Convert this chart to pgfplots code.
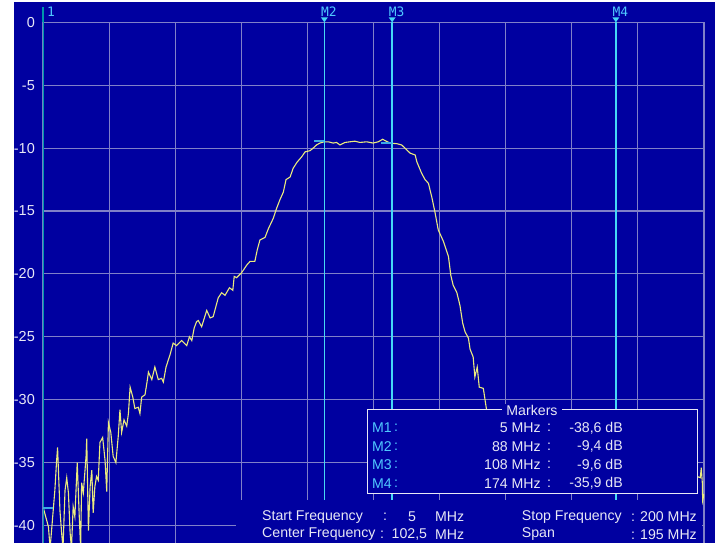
\documentclass[border=0pt]{standalone}
\usepackage{pgfplots}
\usepackage{pgfplotstable}
\pgfplotsset{compat=1.18}
\usepackage{fontspec}
\setmainfont{Liberation Sans}
\newfontfamily\mono{DejaVu Sans Mono}
\definecolor{bg}{RGB}{0,0,160}
\definecolor{gridc}{RGB}{128,128,200}
\definecolor{trace}{RGB}{235,235,125}
\definecolor{mk}{RGB}{70,215,245}
\definecolor{mkone}{RGB}{0,150,170}
\definecolor{mtick}{RGB}{60,170,230}
\definecolor{txt}{RGB}{232,232,245}
\definecolor{mlab}{RGB}{80,200,255}

\pgfplotstableread{
f db
5.1 -38.6
6.6 -40.1
7.1 -41.8
8.5 -37.2
9.0 -34.9
9.3 -33.8
10.0 -38.8
10.5 -40.6
10.9 -41.8
11.5 -37.2
12.0 -36.2
12.5 -37.4
13.0 -40.6
13.4 -41.8
13.9 -38.5
14.4 -39.3
15.1 -35.0
15.7 -39.3
16.1 -41.8
16.4 -36.6
16.9 -37.4
17.7 -34.5
17.9 -33.1
18.4 -40.4
18.9 -36.9
19.4 -35.6
19.8 -39.0
20.3 -36.9
20.8 -36.1
21.3 -36.4
21.8 -33.4
22.6 -33.0
23.3 -34.8
23.8 -37.3
24.3 -31.8
25.0 -32.6
25.7 -34.5
26.5 -35.0
27.2 -32.9
27.7 -30.8
28.2 -32.6
28.9 -31.6
29.7 -32.1
30.2 -31.1
30.7 -29.0
31.5 -29.8
32.1 -30.7
33.1 -30.6
33.6 -31.1
34.1 -29.8
35.1 -29.6
35.8 -28.4
36.1 -27.8
37.1 -28.4
38.0 -27.4
39.0 -28.4
40.0 -28.3
40.5 -28.6
41.3 -27.4
42.5 -26.4
43.4 -25.5
44.4 -25.7
45.9 -25.3
47.4 -25.7
48.2 -25.0
48.9 -25.3
49.6 -24.3
50.3 -23.8
50.8 -23.7
51.8 -24.2
53.3 -22.9
54.3 -23.5
55.2 -23.4
56.7 -21.9
57.7 -21.5
58.7 -21.7
60.0 -21.1
61.0 -21.3
61.4 -20.2
62.1 -20.3
63.6 -19.9
65.1 -19.3
66.1 -19.0
67.5 -19.0
68.2 -18.1
69.0 -17.3
70.5 -17.1
71.5 -16.4
72.9 -15.6
73.9 -14.8
74.9 -14.1
75.9 -13.5
76.7 -12.5
77.9 -12.3
78.8 -11.6
80.0 -11.1
81.3 -10.7
82.3 -10.3
83.8 -10.2
84.7 -10.0
85.7 -9.75
86.7 -9.6
87.9 -9.5
89.2 -9.5
90.6 -9.6
91.6 -9.55
92.6 -9.75
94.1 -9.55
97.0 -9.45
98.5 -9.55
100.5 -9.5
102.4 -9.6
103.9 -9.5
105.2 -9.3
105.9 -9.4
107.4 -9.6
109.4 -9.65
110.8 -9.75
111.8 -10.0
113.3 -10.4
114.8 -10.55
115.3 -11.1
116.7 -12.0
117.7 -12.5
118.7 -12.8
119.7 -13.9
120.6 -15.05
121.6 -16.5
123.1 -17.4
124.6 -18.6
125.3 -20.1
126.0 -20.9
127.1 -21.5
128.0 -22.5
128.8 -23.9
129.5 -24.6
130.5 -25.1
131.0 -26.0
131.9 -26.6
132.4 -28.2
133.1 -27.4
133.7 -29.0
134.9 -29.1
135.4 -30.0
136.3 -31.6
137.5 -34.0
138.9 -35.6
142 -36.5
148 -35.8
155 -36.8
162 -35.5
168 -36.3
174 -35.9
180 -36.4
186 -35.7
192 -36.8
197 -36.0
198.9 -36.2
199.2 -35.4
199.5 -36.6
199.6 -38.0
200 -37.5
}\tracedata

\begin{document}
\begin{tikzpicture}
\begin{scope}[x=1bp,y=1bp]
\fill[white] (0,0) rectangle (715,543);
\fill[bg] (14,0) rectangle (715,541);
\end{scope}
\begin{axis}[
  at={(43bp,0bp)}, anchor=south west,
  scale only axis, width=661bp, height=520.7bp,
  xmin=5, xmax=200, ymin=-41.39, ymax=0,
  xtick={5,24.5,44,63.5,83,102.5,122,141.5,161,180.5,200},
  xticklabels={},
  ytick={-40,-35,-30,-25,-20,-15,-10,-5,0},
  yticklabels={-40,-35,-30,-25,-20,-15,-10,-5,0},
  yticklabel style={text=txt, font=\fontsize{14.5}{15}\selectfont, anchor=east, inner sep=0pt, xshift=-8bp},
  grid=major,
  major grid style={draw=gridc, line width=1.1bp},
  axis line style={draw=none},
  major tick length=0pt,
  tick style={draw=none},
  clip mode=individual,
]
\addplot[trace, line width=1.1bp] table[x=f, y=db] {\tracedata};
% marker lines
\addplot[mkone, line width=1.6bp] coordinates {(5,0) (5,-41.39)};
\addplot[mk, line width=1.6bp] coordinates {(88,0) (88,-41.39)};
\addplot[mk, line width=1.6bp] coordinates {(108,0) (108,-41.39)};
\addplot[mk, line width=1.6bp] coordinates {(174,0) (174,-41.39)};
% marker level ticks
\addplot[mtick, line width=2bp] coordinates {(5,-38.6) (7.95,-38.6)};
\addplot[mtick, line width=2bp] coordinates {(85,-9.4) (88,-9.4)};
\addplot[mtick, line width=2bp] coordinates {(104.8,-9.6) (108,-9.6)};
% marker flags above the axis
\draw[mkone, line width=1.6bp] (axis cs:5,0) -- ([yshift=15bp]axis cs:5,0);
\fill[mk] ([xshift=-3.5bp,yshift=5bp]axis cs:88,0) -- ([xshift=3.5bp,yshift=5bp]axis cs:88,0) -- (axis cs:88,0) -- cycle;
\fill[mk] ([xshift=-3.5bp,yshift=5bp]axis cs:108,0) -- ([xshift=3.5bp,yshift=5bp]axis cs:108,0) -- (axis cs:108,0) -- cycle;
\fill[mk] ([xshift=-3.5bp,yshift=5bp]axis cs:174,0) -- ([xshift=3.5bp,yshift=5bp]axis cs:174,0) -- (axis cs:174,0) -- cycle;
\node[anchor=west, text=mlab, inner sep=0pt, font=\mono\fontsize{13}{13}\selectfont] at ([xshift=-3.5bp,yshift=10.5bp]axis cs:88,0) {M2};
\node[anchor=west, text=mlab, inner sep=0pt, font=\mono\fontsize{13}{13}\selectfont] at ([xshift=-3.5bp,yshift=10.5bp]axis cs:108,0) {M3};
\node[anchor=west, text=mlab, inner sep=0pt, font=\mono\fontsize{13}{13}\selectfont] at ([xshift=-3.5bp,yshift=10.5bp]axis cs:174,0) {M4};
\node[anchor=west, text=mlab, inner sep=0pt, font=\mono\fontsize{13}{13}\selectfont] at ([xshift=4bp,yshift=10.5bp]axis cs:5,0) {1};
\end{axis}
\begin{scope}[x=1bp,y=1bp, every node/.style={inner sep=0pt, text=txt, font=\fontsize{14.2}{15}\selectfont}]
% bottom info area
\fill[bg] (236,0) rectangle (702,43);
\node[anchor=west] at (262,26) {Start Frequency};
\node at (385,26) {:};
\node at (412,26) {5};
\node[anchor=west] at (435,26) {MHz};
\node[anchor=west] at (262,8.5) {Center Frequency};
\node at (382,8.5) {:};
\node[anchor=west] at (391.5,8.5) {102,5};
\node[anchor=west] at (435,8.5) {MHz};
\node[anchor=west] at (521.7,26) {Stop Frequency};
\node[anchor=east] at (697,26) {: 200 MHz};
\node[anchor=west] at (521.7,8.5) {Span};
\node[anchor=east] at (697,8.5) {: 195 MHz};
% markers box
\fill[bg] (367,49) rectangle (697,133);
\draw[txt, line width=1bp] (367,49) rectangle (697,133);
\node[fill=bg, inner xsep=4bp, inner ysep=1bp] at (532,133) {Markers};
\foreach \y/\n/\fr/\v in {115/M1/5/-38{,}6, 96.5/M2/88/-9{,}4, 78/M3/108/-9{,}6, 59.7/M4/174/-35{,}9}{
  \node[anchor=west, text=mlab] at (372,\y) {\n};
  \node[text=mlab] at (396,\y) {:};
  \node[anchor=east] at (541,\y) {\fr\ MHz};
  \node at (549,\y) {:};
  \node[anchor=east] at (623,\y) {\v\ dB};
}
\end{scope}
\pgfresetboundingbox
\useasboundingbox (0,0) rectangle (715bp,543bp);
\end{tikzpicture}
\end{document}
